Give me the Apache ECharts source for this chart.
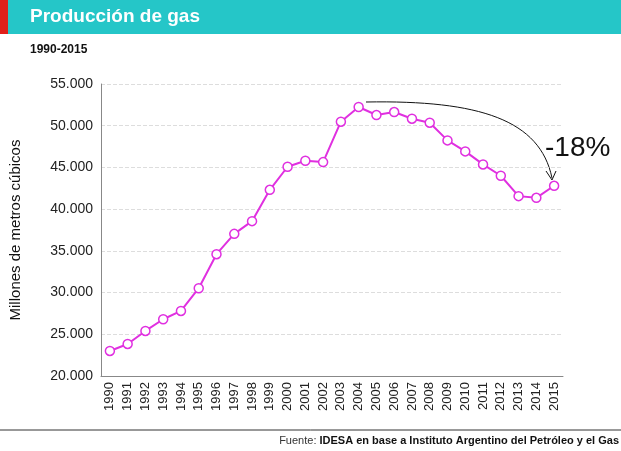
<!DOCTYPE html><html><head><meta charset="utf-8"><script src="https://cdn.jsdelivr.net/npm/echarts@6/dist/echarts.min.js"></script>
<style>body{margin:0}#c{width:621px;height:451px}</style></head><body><div id="c"></div><script>
const years=['1990','1991','1992','1993','1994','1995','1996','1997','1998','1999','2000','2001','2002','2003','2004','2005','2006','2007','2008','2009','2010','2011','2012','2013','2014','2015'];
const gas=[23000,23840,25400,26800,27800,30520,34600,37040,38560,42320,45080,45800,45640,50480,52240,51280,51640,50840,50360,48240,46920,45360,44000,41560,41360,42800];
const yTicks=[20000,25000,30000,35000,40000,45000,50000,55000];
const F='Helvetica, "Liberation Sans", Arial, sans-serif';
const c=echarts.init(document.getElementById('c'));
c.setOption({animation:false,
grid:{left:100,right:58,top:84,bottom:75},
xAxis:{type:'category',data:years,axisTick:{show:false},axisLine:{lineStyle:{color:'#888'}},
axisLabel:{rotate:90,color:'#222',fontSize:13,fontFamily:F,margin:6}},
yAxis:{type:'value',min:20000,max:55000,interval:5000,name:'Millones de metros cúbicos',nameLocation:'middle',nameGap:78,
nameTextStyle:{fontSize:15,color:'#111',fontFamily:F},
axisLine:{show:true,lineStyle:{color:'#888'}},axisTick:{show:false},
splitLine:{lineStyle:{type:'dashed',color:'#ddd'}},
axisLabel:{color:'#222',fontSize:14,fontFamily:F,formatter:v=>yTicks.includes(v)?(v/1000).toFixed(3):''}},
series:[{type:'line',data:gas,symbol:'circle',symbolSize:9,itemStyle:{color:'#fff',borderColor:'#e030e0',borderWidth:1.5},lineStyle:{color:'#e030e0',width:2}}],
graphic:[
{type:'rect',shape:{x:0,y:0,width:621,height:34},style:{fill:'#25c6c8'}},
{type:'rect',shape:{x:0,y:0,width:8,height:34},style:{fill:'#e0201a'}},
{type:'text',left:30,top:7,style:{text:'Producción de gas',fill:'#fff',font:'bold 19px '+F}},
{type:'text',left:30,top:44,style:{text:'1990-2015',fill:'#111',font:'bold 12px '+F}},
{type:'bezierCurve',shape:{x1:366,y1:102,cpx1:480,cpy1:100,cpx2:540,cpy2:120,x2:552,y2:178},style:{stroke:'#111',lineWidth:1,fill:null}},
{type:'polyline',shape:{points:[[546,171],[552,180],[556,171]]},style:{stroke:'#111',lineWidth:1,fill:null}},
{type:'text',left:545,top:134,style:{text:'-18%',fill:'#111',font:'28px '+F}},
{type:'line',shape:{x1:0,y1:430,x2:621,y2:430},style:{stroke:'#333',lineWidth:1}},
{type:'text',right:2,top:435,style:{rich:{a:{fill:'#333',font:'11px '+F},b:{fill:'#111',font:'bold 11px '+F}},text:'{a|Fuente: }{b|IDESA en base a Instituto Argentino del Petróleo y el Gas}'}}
]});
</script></body></html>
